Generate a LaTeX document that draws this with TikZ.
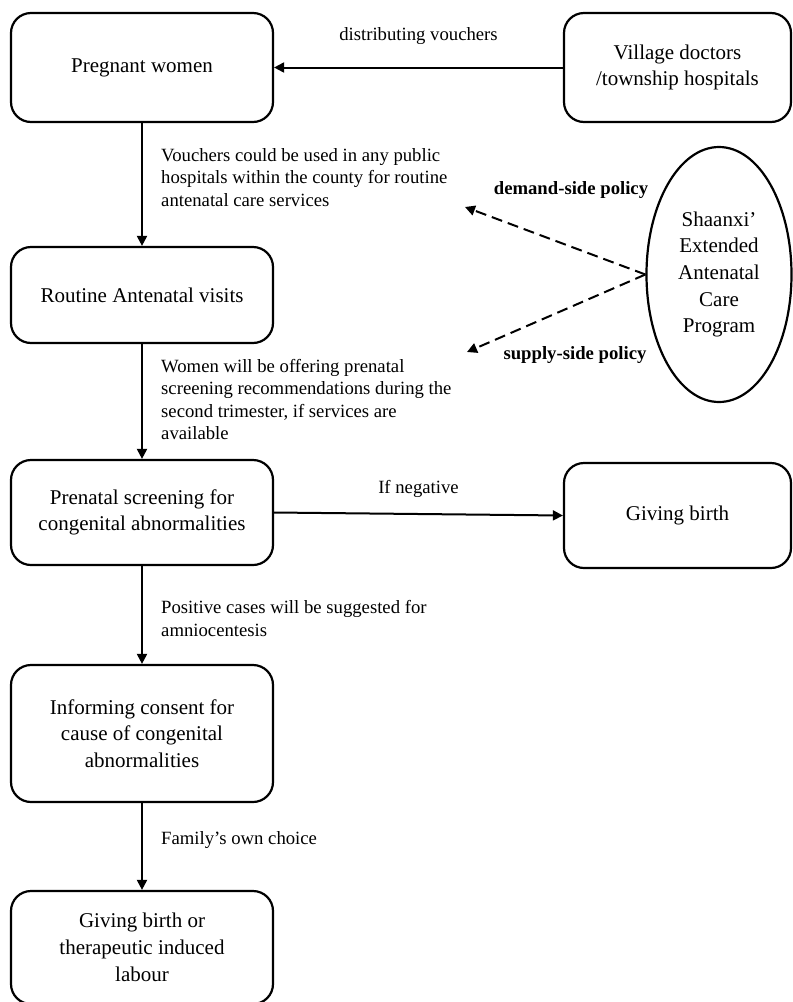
\documentclass[tikz,border=0pt]{standalone}
\usepackage{fontspec}
\setmainfont{Liberation Serif}
\usetikzlibrary{arrows.meta,shapes.geometric}

\tikzset{
  stage/.style={draw, line width=2.2pt, rounded corners=20pt, minimum width=262pt,
    align=center, inner sep=0pt, font=\fontsize{21}{26.7}\selectfont},
  note/.style={align=left, anchor=west, inner sep=0pt, font=\fontsize{18.7}{22.5}\selectfont},
  flow/.style={line width=2pt, -{Triangle[length=10pt,width=10pt]}},
  policy/.style={flow, dash pattern=on 11pt off 6pt},
}

\begin{document}
\begin{tikzpicture}[x=1pt,y=-1pt]
  \useasboundingbox (0,0) rectangle (793,1002);
  \path
    (142,67.5) node[stage, minimum height=109pt] (pregnant){Pregnant women}
    (677.5,67.5) node[stage, minimum width=227pt, minimum height=109pt] (village){Village doctors\\/township hospitals}
    (142,295) node[stage, minimum height=96pt] (routine){Routine Antenatal visits}
    (142,512.5) node[stage, minimum height=105pt] (screening){Prenatal screening for\\congenital abnormalities}
    (677.5,515.5) node[stage, minimum width=227pt, minimum height=105pt] (birth){Giving birth}
    (142,733.5) node[stage, minimum height=137pt] (consent){Informing consent for\\cause of congenital\\abnormalities}
    (142,947.5) node[stage, minimum height=113pt] (outcome){Giving birth or\\therapeutic induced\\labour}
    (719,274.5) node[draw, ellipse, line width=2.2pt, minimum width=145pt, minimum height=255pt,
      inner sep=0pt, align=center, font=\fontsize{21}{26.7}\selectfont] (program){Shaanxi'\\Extended\\Antenatal\\Care\\Program};
  \path
    (161,177.5) node[note] (vouchers){Vouchers could be used in any public\\hospitals within the county for routine\\antenatal care services}
    (161,399.5) node[note] (offering){Women will be offering prenatal\\screening recommendations during the\\second trimester, if services are\\available}
    (161,618.5) node[note] (positive){Positive cases will be suggested for\\amniocentesis}
    (161,840) node[note] (choice){Family's own choice}
    (571,190) node[note, anchor=center, font=\bfseries\fontsize{18.7}{22.5}\selectfont] (demand){demand-side policy}
    (575,355) node[note, anchor=center, font=\bfseries\fontsize{18.7}{22.5}\selectfont] (supply){supply-side policy};
  \coordinate (demandtip) at (465,207);
  \coordinate (supplytip) at (467,352);
  \begin{scope}[flow]
    \draw (village) to node[midway, above=22pt, note, anchor=south] {distributing vouchers} (pregnant);
    \draw (pregnant) to (routine);
    \draw (routine) to (screening);
    \draw (screening.east) to node[midway, above=15pt, note, anchor=south] {If negative} (birth.west);
    \draw (screening) to (consent);
    \draw (consent) to (outcome);
  \end{scope}
  \begin{scope}[policy]
    \draw (program.west) to (demandtip);
    \draw (program.west) to (supplytip);
  \end{scope}
\end{tikzpicture}
\end{document}
